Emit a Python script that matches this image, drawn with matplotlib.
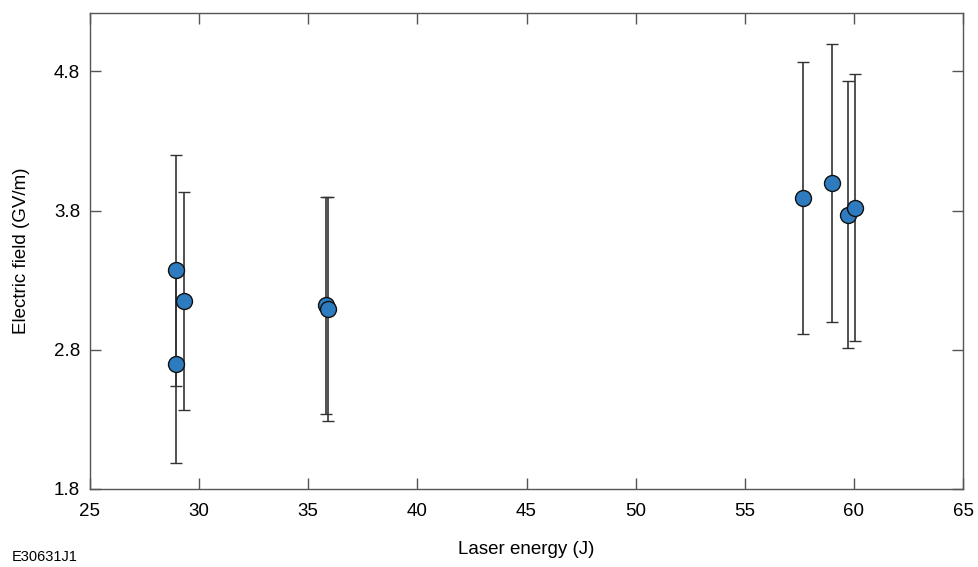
import matplotlib
matplotlib.use("Agg")
import matplotlib.pyplot as plt

# laser energy (J), electric field (GV/m), symmetric error (GV/m)
energy = [28.92, 28.92, 29.30, 35.82, 35.91, 57.65, 58.98, 59.74, 60.04]
field = [3.37, 2.70, 3.15, 3.12, 3.09, 3.89, 4.00, 3.77, 3.82]
field_err = [0.83, 0.71, 0.785, 0.78, 0.805, 0.975, 1.0, 0.96, 0.96]

x_ticks = [25, 30, 35, 40, 45, 50, 55, 60, 65]
y_ticks = [1.8, 2.8, 3.8, 4.8]

plt.rcParams['font.family'] = ['Liberation Sans', 'DejaVu Sans']

fig = plt.figure(figsize=(9.79, 5.67), dpi=100)
ax = fig.add_axes([0.0919, 0.1376, 0.8918, 0.8394])

ax.errorbar(energy, field, yerr=field_err, fmt='none', ecolor='#333333',
            elinewidth=1.2, capsize=4, capthick=1.0, zorder=2)
ax.plot(energy, field, 'o', markersize=11.5, markerfacecolor='#2f7bc0',
        markeredgecolor='#111111', markeredgewidth=1.0, zorder=3)

ax.set_xlim(25, 65)
ax.set_ylim(1.8, 5.22)
ax.set_xticks(x_ticks)
ax.set_yticks(y_ticks)
ax.set_yticklabels(["%.1f" % v for v in y_ticks])
ax.tick_params(direction='in', length=8, width=1, color='#555555',
               top=True, right=True, labelsize=13.5, pad=10)
ax.tick_params(axis='y', pad=7)
for s in ax.spines.values():
    s.set_color('#555555')
    s.set_linewidth(1)

ax.set_xlabel("Laser energy (J)", fontsize=13.5, labelpad=15)
ax.set_ylabel("Electric field (GV/m)", fontsize=13.5, labelpad=17)

fig.text(0.012, 0.005, "E30631J1", fontsize=10.5, ha='left', va='bottom')

fig.savefig("out.png", dpi=100)
